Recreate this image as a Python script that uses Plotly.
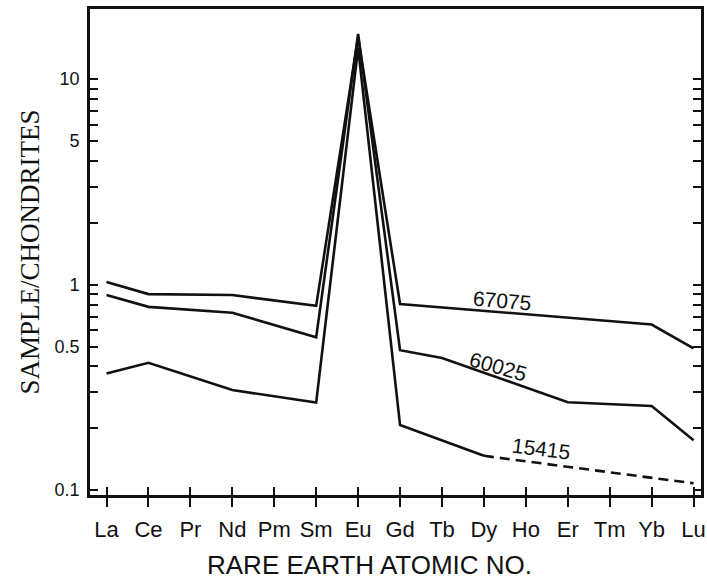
import plotly.graph_objects as go
import math

# ---- data ----
elements = ["La", "Ce", "Pr", "Nd", "Pm", "Sm", "Eu", "Gd", "Tb", "Dy", "Ho", "Er", "Tm", "Yb", "Lu"]

s67075_x = ["La", "Ce", "Nd", "Sm", "Eu", "Gd", "Yb", "Lu"]
s67075_y = [1.03, 0.90, 0.89, 0.79, 16.0, 0.805, 0.64, 0.49]

s60025_x = ["La", "Ce", "Nd", "Sm", "Eu", "Gd", "Tb", "Er", "Yb", "Lu"]
s60025_y = [0.89, 0.78, 0.73, 0.555, 16.6, 0.48, 0.44, 0.268, 0.257, 0.175]

s15415_x = ["La", "Ce", "Nd", "Sm", "Eu", "Gd", "Dy"]
s15415_y = [0.37, 0.417, 0.307, 0.267, 14.2, 0.2075, 0.147]
s15415_dash_x = ["Dy", "Lu"]
s15415_dash_y = [0.147, 0.108]

y_tickvals = [0.1, 0.2, 0.3, 0.4, 0.5, 0.6, 0.7, 0.8, 0.9, 1, 2, 3, 4, 5, 6, 7, 8, 9, 10]
y_ticklabels = {0.1: "0.1", 0.5: "0.5", 1: "1", 5: "5", 10: "10"}

# series labels: (text, x position in category units, y value, angle)
labels = [("67075", 9.44, 0.84, 5), ("60025", 9.34, 0.40, 16), ("15415", 10.35, 0.159, 7)]

x_title = "RARE EARTH ATOMIC NO."
y_title = "SAMPLE/CHONDRITES"

INK = "#111111"
LW = 2.6

fig = go.Figure()
for xs, ys, dash in [(s67075_x, s67075_y, "solid"), (s60025_x, s60025_y, "solid"),
                     (s15415_x, s15415_y, "solid"), (s15415_dash_x, s15415_dash_y, "10px,6px")]:
    fig.add_trace(go.Scatter(x=xs, y=ys, mode="lines", line=dict(color=INK, width=LW, dash=dash),
                             showlegend=False, hoverinfo="skip"))

# invisible trace carrying the overlaid axis that draws the inward half of the crossing ticks
fig.add_trace(go.Scatter(x=elements, y=[1] * len(elements), xaxis="x2", mode="none",
                         showlegend=False, hoverinfo="skip"))

xr = [-0.394, 14.177]
common_x = dict(type="category", categoryorder="array", categoryarray=elements, range=xr,
                showgrid=False, zeroline=False, automargin=False)

fig.update_layout(
    width=707, height=582,
    margin=dict(l=90, r=6, t=9, b=87),
    paper_bgcolor="white", plot_bgcolor="white",
    font=dict(family="Liberation Sans", color=INK),
    xaxis=dict(**common_x, tickvals=elements, ticktext=elements,
               ticks="outside", ticklen=9, tickwidth=2, tickcolor=INK,
               showline=True, linecolor=INK, linewidth=LW, mirror=True,
               tickfont=dict(size=22, family="Liberation Sans", color=INK),
               ticklabelstandoff=4),
    xaxis2=dict(**common_x, overlaying="x", side="bottom", anchor="y", tickvals=elements,
                ticks="inside", ticklen=8, tickwidth=2, tickcolor=INK,
                showticklabels=False, showline=False),
    yaxis=dict(type="log", range=[-1.0235, 1.3415], showgrid=False, zeroline=False,
               automargin=False,
               tickvals=y_tickvals,
               ticktext=[y_ticklabels.get(v, "") for v in y_tickvals],
               ticks="inside", ticklen=8, tickwidth=2, tickcolor=INK,
               showline=True, linecolor=INK, linewidth=LW, mirror="ticks",
               tickfont=dict(size=18, family="Liberation Sans", color=INK),
               ticklabelstandoff=4,
               title=dict(text=y_title, standoff=8,
                          font=dict(size=27, family="Liberation Serif", color=INK))),
)

# x-axis title, sitting low against the bottom edge as in the reference
fig.add_annotation(x=0.458, y=-0.109, xref="paper", yref="paper", xanchor="center", yanchor="top",
                   text=x_title, showarrow=False,
                   font=dict(size=26, family="Liberation Sans", color=INK))

for text, x, y, ang in labels:
    fig.add_annotation(x=x, y=math.log10(y), xref="x", yref="y", text=text, showarrow=False,
                       textangle=ang, font=dict(size=21, family="Liberation Sans", color=INK))

fig.write_html("out.html")
